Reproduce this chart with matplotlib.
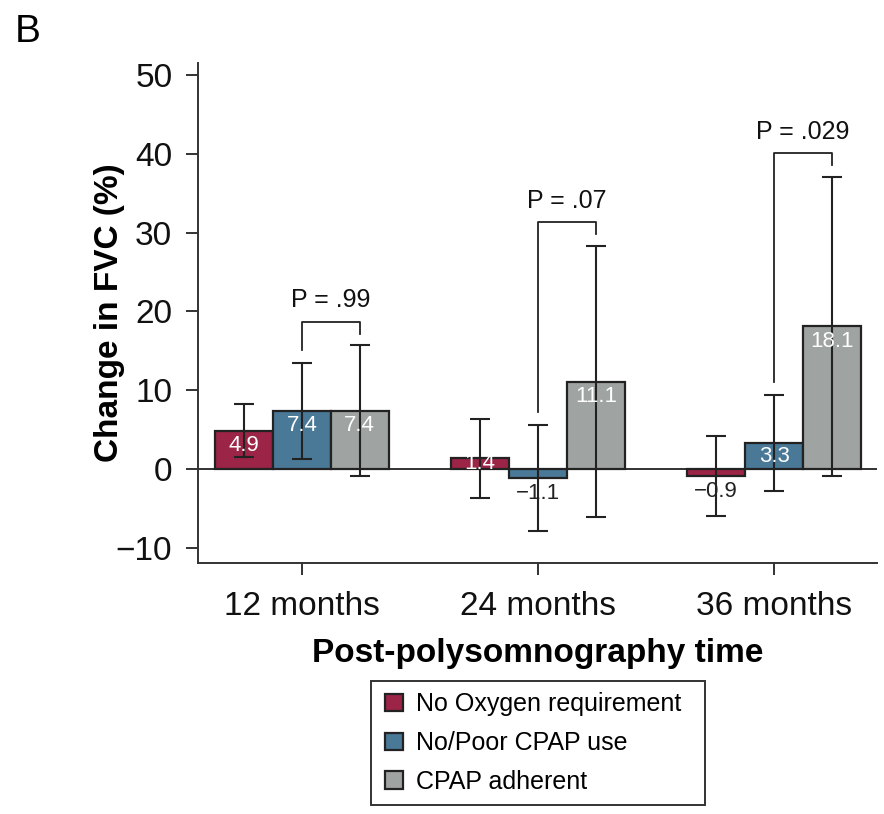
import matplotlib.pyplot as plt
from matplotlib.patches import Rectangle
import numpy as np

plt.rcParams["font.family"] = ["Liberation Sans", "DejaVu Sans"]

# 各时间点的组别与数据
months = ["12 months", "24 months", "36 months"]
groups = ["No Oxygen requirement", "No/Poor CPAP use", "CPAP adherent"]

no_oxygen = [4.9, 1.4, -0.9]
no_oxygen_err = [3.4, 5.0, 5.1]
poor_cpap = [7.4, -1.1, 3.3]
poor_cpap_err = [6.1, 6.7, 6.1]
cpap_adherent = [7.4, 11.1, 18.1]
cpap_adherent_err = [8.3, 17.2, 19.0]

p_labels = ["P = .99", "P = .07", "P = .029"]

colors = ["#9b2447", "#4a7897", "#9fa4a3"]
edge = "#222222"


def value_text(v):
    s = f"{abs(v):.1f}"
    return ("\u2212" + s) if v < 0 else s


def draw_bars(ax, positions, values, errs, color, width):
    bars = ax.bar(positions, values, width=width, color=color,
                  edgecolor=edge, linewidth=1.6, zorder=2)
    ax.errorbar(positions, values, yerr=errs, fmt="none", ecolor=edge,
                elinewidth=1.5, capsize=7, capthick=1.5, zorder=3)
    # 柱子上的数值标签
    for x, v in zip(positions, values):
        if v >= 0:
            y = v - 1.9 if v > 4 else v / 2
            ax.text(x, y, value_text(v), ha="center", va="center",
                    color="white", fontsize=16, zorder=4)
        else:
            ax.text(x, v - 0.6, value_text(v), ha="center", va="top",
                    color=edge, fontsize=16, zorder=4)
    return bars


fig = plt.figure(figsize=(8.84, 8.14), dpi=100)
ax = fig.add_axes([198 / 884, 1 - 563 / 814, (877 - 198) / 884, 500 / 814])

x = np.arange(len(months))
w = 0.245

series = [
    (no_oxygen, no_oxygen_err),
    (poor_cpap, poor_cpap_err),
    (cpap_adherent, cpap_adherent_err),
]
handles = []
for i, (vals, errs) in enumerate(series):
    handles.append(draw_bars(ax, x + (i - 1) * w, vals, errs, colors[i], w))

ax.axhline(0, color=edge, linewidth=1.3, zorder=1)

# 显著性括号：No/Poor CPAP use 与 CPAP adherent 比较
for i, label in enumerate(p_labels):
    top_b = poor_cpap[i] + poor_cpap_err[i]
    top_c = cpap_adherent[i] + cpap_adherent_err[i]
    y_top = max(top_b, top_c) + 3.0
    xb, xc = x[i], x[i] + w
    ax.plot([xb, xb, xc, xc], [top_b + 1.6, y_top, y_top, top_c + 1.5],
            color=edge, linewidth=1.3, zorder=3)
    ax.text((xb + xc) / 2, y_top + 1.8, label, ha="center", va="baseline",
            fontsize=18, color="#111111")

ax.set_xlim(-0.44, 2.436)
ax.set_ylim(-11.9, 51.5)
ax.set_yticks([-10, 0, 10, 20, 30, 40, 50])
ax.set_yticklabels(["\u221210", "0", "10", "20", "30", "40", "50"])
ax.set_xticks(x)
ax.set_xticklabels(months)

for side in ["top", "right"]:
    ax.spines[side].set_visible(False)
for side in ["left", "bottom"]:
    ax.spines[side].set_color("#333333")
    ax.spines[side].set_linewidth(1.4)

ax.tick_params(axis="both", labelsize=24, length=8.5, width=1.4,
               color="#333333", labelcolor="#111111")
ax.tick_params(axis="y", pad=10)
ax.tick_params(axis="x", pad=12)

ax.set_ylabel("Change in FVC (%)", fontsize=24, fontweight="bold")
ax.yaxis.set_label_coords(-0.107, 0.5)
ax.set_xlabel("Post-polysomnography time", fontsize=24, fontweight="bold",
              labelpad=11)

fig.text(15 / 884, 1 - 42 / 814, "B", fontsize=28, ha="left", va="baseline")

# 图例：内容用 legend 画，外框单独画一个矩形（右侧留白更宽）
fig.legend(handles, groups, loc="upper left",
           bbox_to_anchor=(374 / 884, 1 - 681 / 814),
           borderaxespad=0, fontsize=18, frameon=False,
           handlelength=0.7, handleheight=0.7, handletextpad=0.55,
           borderpad=0.45, labelspacing=0.59)
fig.patches.append(Rectangle((371 / 884, 1 - 805 / 814), 334 / 884, 124 / 814,
                             transform=fig.transFigure, fill=False,
                             edgecolor="#333333", linewidth=1.4))

fig.savefig("out.png", dpi=100)
